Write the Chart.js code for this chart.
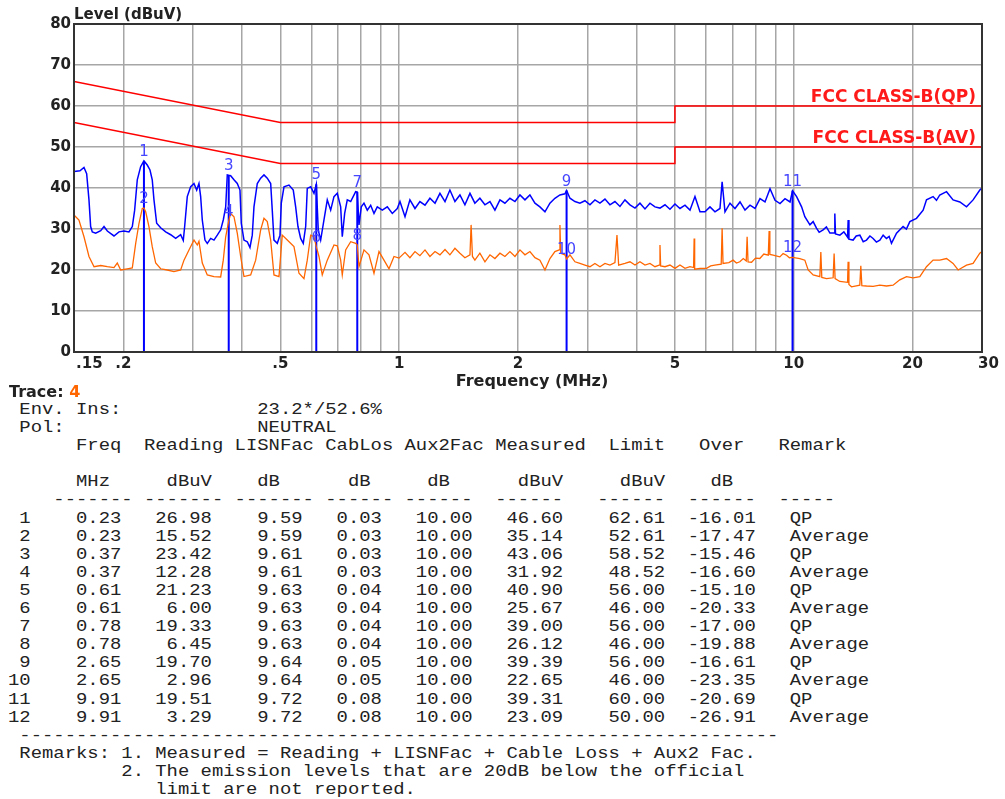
<!DOCTYPE html>
<html>
<head>
<meta charset="utf-8">
<script src="https://cdn.jsdelivr.net/npm/chart.js@4.4.1/dist/chart.umd.min.js"></script>
<style>
  html, body { margin: 0; padding: 0; background: #fff; }
  body { width: 1005px; height: 799px; position: relative; overflow: hidden; }
  #plot { position: absolute; left: 0; top: 0; }
  #trace { position: absolute; left: 9px; top: 382px; font: bold 16px "DejaVu Sans", sans-serif; color: #222; }
  #trace span { color: #ff6600; }
  #report {
    position: absolute; left: 8px; top: 401px; margin: 0;
    font: 16px/18.1px "Liberation Mono", monospace; color: #222;
    white-space: pre; transform: scaleX(1.18); transform-origin: 0 0;
  }
</style>
</head>
<body>
<canvas id="plot" width="1005" height="400"></canvas>
<div id="trace">Trace: <span>4</span></div>
<pre id="report"></pre>
<script>
// axis grid / labels
const xGridFreqs = [0.15, 0.2, 0.3, 0.4, 0.5, 0.6, 0.7, 0.8, 0.9, 1, 2, 3, 4, 5, 6, 7, 8, 9, 10, 20, 30];
const xTickText = ['.15', '.2', '', '', '.5', '', '', '', '', '1', '2', '', '', '5', '', '', '', '', '10', '20', '30'];

// FCC class B limits
const limitFreq = [0.15, 0.5, 5, 5, 30];
const qpLimit = [66, 56, 56, 60, 60];
const avLimit = [56, 46, 46, 50, 50];
const limitNames = ['FCC CLASS-B(QP)', 'FCC CLASS-B(AV)'];

// peak / QP trace (blue)
const qpFreq = [0.150, 0.1553, 0.159, 0.1615, 0.1637, 0.1653, 0.1669, 0.1702, 0.1753, 0.1787, 0.1822, 0.1894, 0.195, 0.2008, 0.2067, 0.2108, 0.2137, 0.217, 0.2213, 0.2256, 0.23, 0.2337, 0.2368, 0.2392, 0.243, 0.2487, 0.2561, 0.2637, 0.2715, 0.2795, 0.2838, 0.2861, 0.2905, 0.2963, 0.3021, 0.3069, 0.311, 0.3141, 0.3171, 0.3221, 0.3265, 0.333, 0.3395, 0.3461, 0.353, 0.3584, 0.3635, 0.3669, 0.3699, 0.3742, 0.3815, 0.3889, 0.3951, 0.3981, 0.4044, 0.4123, 0.4188, 0.4245, 0.4287, 0.4371, 0.4458, 0.4545, 0.4633, 0.4726, 0.477, 0.4818, 0.4912, 0.499, 0.5028, 0.5108, 0.5259, 0.5392, 0.5468, 0.5542, 0.563, 0.5716, 0.5797, 0.5851, 0.5969, 0.6085, 0.6167, 0.6239, 0.6327, 0.645, 0.6576, 0.6707, 0.6838, 0.6971, 0.711, 0.7177, 0.7278, 0.739, 0.7538, 0.7761, 0.7834, 0.7912, 0.8019, 0.8146, 0.8305, 0.8471, 0.8636, 0.8804, 0.9065, 0.9333, 0.961, 0.9894,
    1.005, 1.035, 1.065, 1.097, 1.129, 1.163, 1.197, 1.233, 1.269, 1.307, 1.345, 1.385, 1.426, 1.468, 1.512, 1.556, 1.602, 1.650, 1.699, 1.749, 1.801, 1.854, 1.909, 1.966, 2.024, 2.084, 2.145, 2.209, 2.274, 2.342, 2.411, 2.482, 2.556, 2.632, 2.657, 2.710, 2.790, 2.872, 2.957, 3.045, 3.135, 3.228, 3.324, 3.422, 3.523, 3.628, 3.735, 3.846, 3.960, 4.077, 4.198, 4.322, 4.450, 4.582, 4.718, 4.857, 5.001, 5.149, 5.302, 5.459, 5.620, 5.787, 5.958, 6.135, 6.316, 6.503, 6.585, 6.696, 6.894, 7.098, 7.309, 7.525, 7.748, 7.978, 8.214, 8.457, 8.708, 8.966, 9.231, 9.505, 9.786, 9.931,
    10.17, 10.47, 10.67, 10.99, 11.2, 11.42, 11.6, 11.87, 12.1, 12.35, 12.66, 12.71, 12.76, 13.09, 13.4, 13.69, 13.74, 13.8, 14.14, 14.4, 14.71, 15.0, 15.29, 15.6, 15.89, 16.2, 16.53, 16.85, 17.18, 17.45, 17.69, 18.22, 18.93, 19.3, 19.69, 20.47, 21.28, 21.7, 22.55, 23.0, 23.45, 24.39, 25.34, 26.36, 27.41, 28.48, 29.62, 30];
const qpLevel = [44.0, 44.2, 45.0, 43.5, 37.1, 30.6, 29.3, 29.0, 29.6, 30.6, 29.5, 28.3, 29.3, 29.5, 29.3, 30.6, 34.6, 42.0, 45.2, 46.6, 45.6, 44.4, 42.0, 37.1, 31.4, 30.3, 29.3, 28.6, 27.7, 28.6, 27.2, 30.6, 37.9, 40.3, 41.1, 39.5, 41.1, 37.9, 32.2, 27.3, 26.5, 27.7, 27.3, 28.5, 29.8, 32.2, 35.4, 43.2, 43.1, 43.0, 42.0, 41.1, 39.5, 31.4, 27.3, 26.9, 25.5, 28.5, 35.4, 41.1, 42.4, 43.2, 42.4, 41.1, 34.6, 27.3, 26.5, 28.5, 36.3, 40.3, 40.7, 39.5, 35.4, 30.6, 27.7, 26.5, 30.6, 39.9, 40.3, 38.7, 40.9, 29.7, 27.3, 32.2, 37.1, 34.6, 37.9, 38.7, 35.4, 28.1, 33.8, 37.1, 36.7, 39.1, 39.0, 31.0, 35.4, 36.3, 34.6, 35.8, 33.8, 35.4, 34.6, 35.4, 33.8, 35.0,
    36.7, 33.0, 37.1, 35.0, 36.7, 35.8, 37.5, 36.3, 38.7, 36.7, 39.5, 36.7, 38.3, 35.9, 38.7, 36.3, 37.5, 35.9, 36.7, 34.6, 37.1, 36.3, 37.5, 36.7, 38.3, 37.1, 38.3, 36.3, 35.4, 34.2, 36.3, 37.5, 38.3, 38.6, 39.4, 37.5, 36.7, 36.3, 36.9, 35.9, 37.1, 36.3, 37.3, 35.9, 36.7, 35.5, 37.1, 35.9, 35.1, 36.3, 34.9, 36.3, 35.4, 35.1, 35.9, 34.8, 36.1, 35.0, 35.8, 34.6, 37.9, 34.2, 34.2, 35.4, 34.2, 35.0, 41.5, 34.2, 36.3, 35.0, 36.6, 34.6, 35.8, 35.0, 37.4, 36.6, 39.8, 37.0, 36.2, 37.4, 36.6, 39.3,
    37.9, 35.4, 33.0, 31.0, 31.8, 30.2, 29.2, 29.8, 30.5, 29.0, 29.0, 33.8, 28.8, 28.5, 29.3, 28.0, 32.2, 27.5, 27.3, 28.3, 28.5, 26.9, 27.3, 28.3, 27.7, 26.8, 27.3, 28.5, 27.7, 28.2, 26.5, 29.0, 30.6, 30.0, 31.8, 32.6, 34.6, 37.1, 37.9, 37.0, 38.3, 39.1, 37.1, 36.6, 35.4, 37.1, 39.5, 40.0];

// average trace (orange)
const avFreq = [0.150, 0.1544, 0.159, 0.1637, 0.1686, 0.1753, 0.1822, 0.1894, 0.1931, 0.197, 0.2047, 0.2108, 0.215, 0.2192, 0.2234, 0.2256, 0.2279, 0.2323, 0.2368, 0.2416, 0.2487, 0.2585, 0.2688, 0.2795, 0.285, 0.2934, 0.3021, 0.308, 0.311, 0.3171, 0.3265, 0.3395, 0.353, 0.3584, 0.3635, 0.3699, 0.3742, 0.3815, 0.3889, 0.3967, 0.4044, 0.4205, 0.433, 0.4458, 0.4545, 0.4633, 0.4726, 0.4818, 0.4961, 0.5057, 0.5207, 0.5414, 0.5575, 0.5739, 0.5851, 0.5969, 0.6085, 0.6167, 0.6265, 0.6386, 0.6576, 0.6838, 0.6971, 0.711, 0.7177, 0.7321, 0.7538, 0.7761, 0.7834, 0.7912, 0.8146, 0.8387, 0.8636, 0.8892, 0.9155, 0.9426, 0.9705, 0.9993,
    1.035, 1.065, 1.097, 1.129, 1.163, 1.197, 1.233, 1.269, 1.307, 1.345, 1.385, 1.426, 1.468, 1.512, 1.522, 1.534, 1.556, 1.602, 1.650, 1.699, 1.749, 1.801, 1.854, 1.909, 1.966, 2.024, 2.084, 2.145, 2.209, 2.274, 2.342, 2.411, 2.482, 2.545, 2.556, 2.567, 2.632, 2.657, 2.710, 2.790, 2.872, 2.957, 3.045, 3.135, 3.228, 3.324, 3.422, 3.523, 3.565, 3.600, 3.735, 3.846, 3.960, 4.077, 4.198, 4.322, 4.450, 4.560, 4.582, 4.600, 4.718, 4.857, 5.001, 5.149, 5.302, 5.459, 5.575, 5.593, 5.610, 5.787,
    6.012, 6.16, 6.31, 6.55, 6.585, 6.62, 6.85, 7.021, 7.16, 7.301, 7.45, 7.58, 7.619, 7.66, 7.819, 8.0, 8.205, 8.4, 8.62, 8.663, 8.7, 8.868, 9.22, 9.4, 9.589, 9.75, 9.931, 10.36, 10.67, 10.88, 11.2, 11.645, 11.714, 11.78, 12.11, 12.585, 12.658, 12.73, 13.086, 13.69, 13.736, 13.8, 14.011, 14.705, 14.792, 14.88, 15.291, 15.891, 16.525, 17.183, 17.857, 18.57, 19.31, 20.07, 20.87, 21.7, 22.55, 23.45, 24.39, 25.34, 26.1, 27.41, 28.48, 29.62, 30];
const avLevel = [33.4, 32.2, 28.1, 23.3, 20.8, 21.1, 20.8, 20.6, 21.7, 20.0, 20.3, 20.5, 26.5, 31.4, 35.0, 35.1, 34.2, 30.6, 25.7, 21.7, 20.3, 20.0, 19.6, 20.0, 22.4, 24.9, 27.3, 26.1, 27.0, 21.7, 18.8, 18.4, 18.3, 22.4, 28.1, 31.9, 33.8, 33.0, 29.0, 23.3, 18.4, 18.8, 22.4, 29.8, 32.6, 31.8, 27.3, 18.8, 18.4, 28.5, 27.3, 25.7, 19.2, 17.9, 22.4, 28.5, 28.1, 25.7, 23.3, 18.8, 22.4, 26.1, 25.9, 22.4, 18.8, 24.9, 26.9, 26.5, 26.1, 20.8, 24.9, 23.7, 19.2, 24.5, 22.4, 20.3, 23.3, 22.9,
    24.3, 23.0, 24.5, 23.5, 24.9, 23.3, 24.5, 23.7, 25.0, 23.7, 25.3, 24.1, 23.0, 23.7, 31.0, 23.3, 22.4, 24.1, 22.0, 23.7, 22.8, 24.1, 23.3, 24.5, 23.3, 24.9, 23.7, 24.5, 23.0, 22.4, 20.0, 22.8, 24.5, 24.9, 31.0, 24.1, 23.7, 22.7, 23.7, 22.0, 21.6, 21.2, 20.8, 21.6, 20.8, 21.6, 21.2, 21.8, 28.5, 21.2, 21.6, 22.0, 21.2, 22.0, 21.2, 21.6, 20.8, 21.2, 26.1, 21.0, 20.8, 21.2, 20.4, 21.2, 20.4, 20.8, 20.6, 27.7, 20.2, 20.4,
    20.4, 21.0, 21.2, 21.4, 30.2, 21.6, 21.8, 22.4, 21.7, 22.0, 22.8, 22.2, 28.1, 22.0, 21.9, 22.9, 22.8, 23.9, 23.6, 29.5, 23.8, 23.6, 23.2, 24.0, 23.6, 23.0, 23.1, 22.8, 22.4, 20.0, 18.8, 18.4, 24.4, 18.2, 17.9, 18.1, 24.0, 17.9, 17.2, 17.0, 22.0, 16.5, 15.9, 16.3, 21.0, 16.2, 16.1, 16.0, 16.3, 16.1, 16.3, 17.6, 18.4, 18.1, 18.4, 20.8, 22.4, 22.4, 22.8, 21.6, 20.0, 21.2, 21.6, 24.1, 24.5];

// marker lines (frequency as drawn, top = QP measured)
const markerFreq = [0.2256, 0.37, 0.6167, 0.7834, 2.657, 9.931];
const markerTop = [46.6, 43.06, 40.9, 39.0, 39.39, 39.31];

// report table
const rowFreq = [0.23, 0.23, 0.37, 0.37, 0.61, 0.61, 0.78, 0.78, 2.65, 2.65, 9.91, 9.91];
const rowReading = [26.98, 15.52, 23.42, 12.28, 21.23, 6.00, 19.33, 6.45, 19.70, 2.96, 19.51, 3.29];
const rowLisn = [9.59, 9.59, 9.61, 9.61, 9.63, 9.63, 9.63, 9.63, 9.64, 9.64, 9.72, 9.72];
const rowCable = [0.03, 0.03, 0.03, 0.03, 0.04, 0.04, 0.04, 0.04, 0.05, 0.05, 0.08, 0.08];
const rowAux = [10, 10, 10, 10, 10, 10, 10, 10, 10, 10, 10, 10];
const rowMeasured = [46.60, 35.14, 43.06, 31.92, 40.90, 25.67, 39.00, 26.12, 39.39, 22.65, 39.31, 23.09];
const rowLimit = [62.61, 52.61, 58.52, 48.52, 56.00, 46.00, 56.00, 46.00, 56.00, 46.00, 60.00, 50.00];
const rowOver = [-16.01, -17.47, -15.46, -16.60, -15.10, -20.33, -17.00, -19.88, -16.61, -23.35, -20.69, -26.91];
const rowRemark = ['QP', 'Average', 'QP', 'Average', 'QP', 'Average', 'QP', 'Average', 'QP', 'Average', 'QP', 'Average'];

const pts = (xs, ys) => xs.map((x, i) => ({ x: x, y: ys[i] }));

const markerPts = [];
markerFreq.forEach((f, i) => {
    markerPts.push({ x: f, y: 0 }, { x: f, y: markerTop[i] }, { x: f, y: null });
});

const labelFont = '"DejaVu Sans", sans-serif';

const overlay = {
    id: 'overlay',
    afterDatasetsDraw(chart) {
        const { ctx, chartArea: a, scales: { x, y } } = chart;
        ctx.save();
        // marker numbers
        ctx.fillStyle = '#4646ff';
        ctx.font = '15px ' + labelFont;
        ctx.textAlign = 'center';
        ctx.textBaseline = 'alphabetic';
        rowMeasured.forEach((v, i) => {
            const f = markerFreq[Math.floor(i / 2)];
            ctx.fillText(String(i + 1), x.getPixelForValue(f), y.getPixelForValue(v) - 5);
        });
        // frame
        ctx.strokeStyle = '#333';
        ctx.lineWidth = 2;
        ctx.strokeRect(a.left, a.top, a.right - a.left, a.bottom - a.top);
        ctx.restore();
    },
    afterDraw(chart) {
        const { ctx, chartArea: a, scales: { x, y } } = chart;
        ctx.save();
        // limit names
        ctx.fillStyle = '#ff1a1a';
        ctx.font = 'bold 17px ' + labelFont;
        ctx.textAlign = 'right';
        ctx.textBaseline = 'alphabetic';
        ctx.fillText(limitNames[0], a.right - 6, y.getPixelForValue(qpLimit[4]) - 4);
        ctx.fillText(limitNames[1], a.right - 6, y.getPixelForValue(avLimit[4]) - 4);
        // x tick labels
        ctx.fillStyle = '#222';
        ctx.font = 'bold 15px ' + labelFont;
        xGridFreqs.forEach((f, i) => {
            if (!xTickText[i]) return;
            let px = x.getPixelForValue(f);
            ctx.textAlign = 'center';
            if (i === 0) { ctx.textAlign = 'left'; px += 2; }
            if (i === xGridFreqs.length - 1) { ctx.textAlign = 'left'; px -= 4; }
            ctx.fillText(xTickText[i], px, a.bottom + 16);
        });
        // axis titles
        ctx.font = 'bold 15px ' + labelFont;
        ctx.textAlign = 'left';
        ctx.fillText('Level (dBuV)', a.left, 19);
        ctx.font = 'bold 16px ' + labelFont;
        ctx.textAlign = 'center';
        ctx.fillText('Frequency (MHz)', 532, 386);
        ctx.restore();
    }
};

new Chart(document.getElementById('plot'), {
    type: 'line',
    data: {
        datasets: [
            { data: pts(limitFreq, qpLimit), borderColor: '#ff0000', borderWidth: 1.5 },
            { data: pts(limitFreq, avLimit), borderColor: '#ff0000', borderWidth: 1.5 },
            { data: pts(qpFreq, qpLevel), borderColor: '#0000ff', borderWidth: 1.5 },
            { data: pts(avFreq, avLevel), borderColor: '#ff6600', borderWidth: 1.3 },
            { data: markerPts, borderColor: '#0000ff', borderWidth: 2, spanGaps: false }
        ]
    },
    options: {
        responsive: false,
        animation: false,
        devicePixelRatio: 1,
        elements: { point: { radius: 0 }, line: { tension: 0 } },
        layout: { padding: { top: 24, right: 23, bottom: 0, left: 0 } },
        plugins: { legend: { display: false }, tooltip: { enabled: false } },
        scales: {
            x: {
                type: 'logarithmic',
                min: 0.15,
                max: 30,
                afterBuildTicks(scale) { scale.ticks = xGridFreqs.map(v => ({ value: v })); },
                afterFit(scale) { scale.height = 48; },
                ticks: { display: false },
                grid: { color: '#a6a6a6', lineWidth: 1.5, drawTicks: false },
                border: { display: false }
            },
            y: {
                min: 0,
                max: 80,
                afterFit(scale) { scale.width = 74; },
                ticks: {
                    stepSize: 10,
                    padding: 3,
                    color: '#222',
                    font: { family: 'DejaVu Sans', weight: 'bold', size: 15 }
                },
                grid: { color: '#a6a6a6', lineWidth: 1.5, drawTicks: false },
                border: { display: false }
            }
        }
    },
    plugins: [overlay]
});

// text report below the plot
const lines = [];
lines.push(' Env. Ins:            23.2*/52.6%');
lines.push(' Pol:                 NEUTRAL');
lines.push('      Freq  Reading LISNFac CabLos Aux2Fac Measured  Limit   Over   Remark');
lines.push('');
lines.push('      MHz     dBuV    dB      dB     dB      dBuV     dBuV    dB');
lines.push('    ------- ------- ------- ------ ------  ------   ------  ------  -----');
rowFreq.forEach((f, i) => {
    lines.push(String(i + 1).padStart(2) +
        f.toFixed(2).padStart(8) +
        rowReading[i].toFixed(2).padStart(8) +
        rowLisn[i].toFixed(2).padStart(8) +
        rowCable[i].toFixed(2).padStart(7) +
        rowAux[i].toFixed(2).padStart(8) +
        rowMeasured[i].toFixed(2).padStart(8) +
        rowLimit[i].toFixed(2).padStart(9) +
        rowOver[i].toFixed(2).padStart(8) +
        '   ' + rowRemark[i]);
});
lines.push(' ' + '-'.repeat(67));
lines.push(' Remarks: 1. Measured = Reading + LISNFac + Cable Loss + Aux2 Fac.');
lines.push('          2. The emission levels that are 20dB below the official');
lines.push('             limit are not reported.');
document.getElementById('report').textContent = lines.join('\n');
</script>
</body>
</html>
